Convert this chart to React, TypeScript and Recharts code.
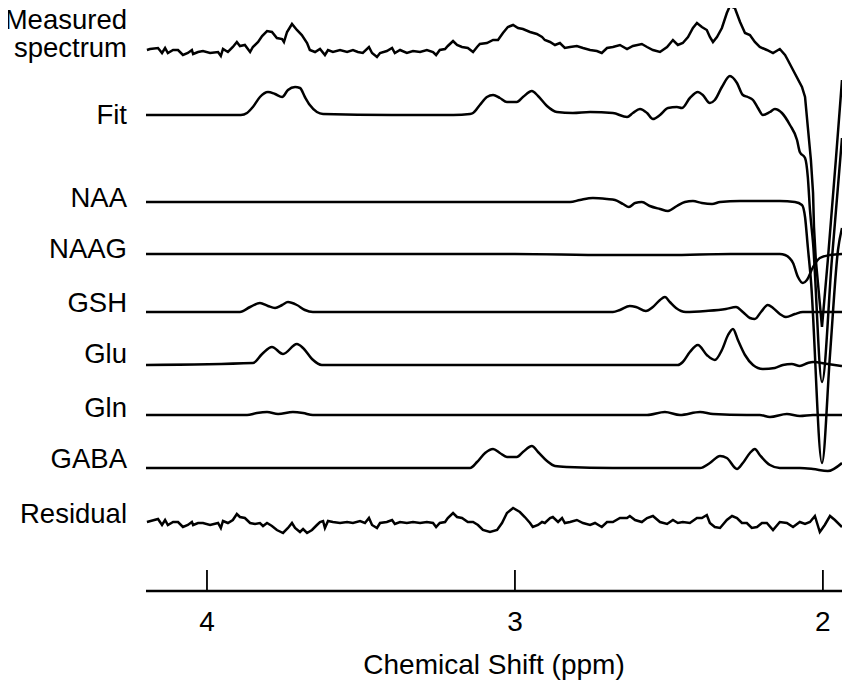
import React from 'react';
import { LineChart, Line, XAxis, YAxis, Label } from 'recharts';

const FONT = '"Liberation Sans", Arial, Helvetica, sans-serif';
const FS = 28;
const LABEL_FS = 27.5;

// chemical shift (ppm) and intensity (arbitrary units)
const measuredPpm = [4.195,4.185,4.159,4.146,4.136,4.127,4.110,4.094,4.078,4.062,4.049,4.045,4.029,4.013,3.990,3.964,3.955,3.948,3.932,3.916,3.903,3.893,3.877,3.860,3.851,3.834,3.821,3.805,3.789,3.773,3.756,3.750,3.740,3.724,3.708,3.692,3.675,3.666,3.649,3.633,3.617,3.607,3.591,3.568,3.545,3.526,3.510,3.494,3.474,3.464,3.448,3.438,3.416,3.399,3.390,3.373,3.351,3.331,3.308,3.286,3.266,3.256,3.244,3.227,3.218,3.201,3.188,3.172,3.153,3.136,3.123,3.114,3.091,3.071,3.055,3.039,3.023,3.006,2.990,2.974,2.951,2.929,2.912,2.903,2.886,2.870,2.854,2.838,2.821,2.799,2.779,2.756,2.734,2.718,2.701,2.682,2.659,2.636,2.617,2.588,2.571,2.552,2.529,2.506,2.487,2.471,2.455,2.438,2.422,2.409,2.393,2.377,2.367,2.357,2.344,2.328,2.312,2.302,2.286,2.269,2.253,2.237,2.221,2.205,2.182,2.162,2.140,2.123,2.114,2.097,2.068,2.058,2.049,2.039,2.032,2.029,2.023,2.003,1.984,1.958,1.938];
const measuredVal = [0,1,2,-3,2,-3,0,0,-5,-3,0,-4,-2,-1,-3,-2,-6,1,-2,3,8,4,5,-2,3,8,14,19,18,12,11,8,18,26,20,15,7,0,-2,1,-5,0,-2,0,-2,0,-2,-3,3,-3,-7,-3,-1,2,-3,0,-3,-1,-2,0,-2,-5,0,1,4,9,5,3,2,-2,3,6,7,10,10,17,23,25,22,21,18,16,13,10,8,5,7,2,3,4,2,0,-1,-3,2,3,5,1,4,6,3,0,-2,3,10,5,7,13,22,27,23,20,13,8,13,22,37,44,42,28,17,15,8,3,0,-3,1,-5,-10,-20,-37,-47,-77,-110,-143,-177,-210,-277,-210,-110,-30];

const fitPpm = [4.198,3.890,3.870,3.851,3.828,3.802,3.779,3.756,3.737,3.714,3.698,3.682,3.666,3.643,3.623,3.400,3.200,3.146,3.136,3.114,3.091,3.071,3.049,3.026,2.994,2.974,2.945,2.925,2.896,2.864,2.812,2.756,2.682,2.636,2.617,2.594,2.571,2.552,2.529,2.503,2.474,2.458,2.432,2.406,2.390,2.367,2.351,2.328,2.302,2.279,2.260,2.244,2.227,2.211,2.195,2.172,2.156,2.133,2.107,2.084,2.075,2.058,2.049,2.042,2.032,2.003,1.971,1.938];
const fitVal = [0,0,2,8,18,23,21,18,25,28,27,18,10,3,1,0,0,1,2,10,18,20,17,13,13,18,24,19,9,3,2,3,2,-2,2,6,2,-4,0,7,8,7,17,23,20,12,15,28,39,32,20,18,15,7,0,3,6,2,-10,-25,-37,-43,-62,-95,-128,-267,-145,-23];

const naaPpm = [4.198,2.821,2.789,2.747,2.701,2.675,2.649,2.630,2.610,2.588,2.562,2.529,2.503,2.474,2.448,2.422,2.393,2.360,2.334,2.269,2.140,2.091,2.068,2.058,2.049,2.039,2.003,1.977,1.951,1.938];
const naaVal = [0,0,2,4,3,2,-2,-5,-1,0,-4,-7,-9,-4,0,1,-1,-2,0,1,1,0,-3,-15,-45,-78,-261,-153,-48,-26];

const naagPpm = [4.198,3.000,2.700,2.500,2.300,2.140,2.123,2.097,2.081,2.065,2.052,2.032,2.010,1.977,1.938];
const naagVal = [0,0,-1,-1,0,0,-1,-9,-23,-29,-26,-13,-4,-1,0];

const gshPpm = [4.198,3.893,3.860,3.828,3.802,3.779,3.756,3.737,3.708,3.682,3.656,2.682,2.659,2.627,2.607,2.575,2.552,2.529,2.513,2.497,2.477,2.445,2.380,2.315,2.282,2.260,2.237,2.221,2.201,2.179,2.162,2.140,2.120,2.091,2.065,1.938];
const gshVal = [0,0,5,9,6,4,7,10,7,2,0,0,2,6,5,1,5,12,15,10,4,0,1,3,5,0,-6,-7,0,7,4,-2,-5,-2,0,0];

const gluPpm = [4.198,3.851,3.821,3.789,3.753,3.708,3.688,3.659,3.627,2.471,2.455,2.432,2.406,2.377,2.351,2.328,2.308,2.292,2.276,2.253,2.227,2.195,2.156,2.130,2.101,2.075,2.049,2.032,1.984,1.938];
const gluVal = [0,2,11,18,11,21,17,6,0,0,3,13,20,10,5,15,30,36,25,10,0,-4,-3,0,1,-1,2,3,1,-1];

const glnPpm = [4.198,3.870,3.838,3.805,3.769,3.721,3.688,3.656,2.571,2.513,2.464,2.399,2.357,2.247,2.205,2.172,2.117,2.075,2.032,1.938];
const glnVal = [0,0,2,3,1,3,2,0,0,3,0,3,1,0,0,-2,1,-1,0,0];

const gabaPpm = [4.198,3.146,3.123,3.097,3.071,3.049,3.026,2.994,2.974,2.945,2.925,2.896,2.870,2.831,2.682,2.399,2.367,2.334,2.312,2.279,2.260,2.237,2.221,2.205,2.172,2.140,2.075,2.032,1.984,1.938];
const gabaVal = [0,0,6,15,19,15,11,11,16,22,16,7,2,1,0,0,5,12,10,-1,5,15,19,13,3,0,0,-1,-3,5];

const residualPpm = [4.195,4.159,4.146,4.136,4.127,4.110,4.094,4.078,4.062,4.049,4.045,4.029,4.013,3.990,3.964,3.955,3.948,3.932,3.916,3.903,3.893,3.877,3.860,3.844,3.828,3.818,3.805,3.789,3.773,3.753,3.737,3.724,3.714,3.698,3.688,3.675,3.659,3.643,3.633,3.623,3.617,3.607,3.591,3.568,3.545,3.526,3.503,3.487,3.474,3.464,3.448,3.438,3.416,3.399,3.390,3.373,3.351,3.331,3.308,3.286,3.266,3.256,3.244,3.227,3.218,3.201,3.188,3.172,3.153,3.136,3.120,3.104,3.081,3.058,3.042,3.026,3.006,2.984,2.968,2.951,2.942,2.925,2.912,2.903,2.886,2.877,2.860,2.847,2.838,2.821,2.799,2.779,2.756,2.740,2.718,2.701,2.682,2.659,2.636,2.627,2.610,2.588,2.571,2.552,2.529,2.506,2.487,2.471,2.455,2.432,2.409,2.393,2.377,2.367,2.351,2.334,2.312,2.295,2.279,2.263,2.247,2.231,2.214,2.198,2.182,2.162,2.140,2.117,2.097,2.075,2.058,2.042,2.026,2.010,1.994,1.977,1.961,1.938];
const residualVal = [1,4,-2,3,-2,1,1,-4,-2,1,-2,0,0,-2,0,-5,2,0,3,9,6,5,0,-1,0,-3,0,-3,-7,-10,-5,0,-5,-9,-6,-10,-7,-2,1,2,-5,2,1,0,1,0,2,0,5,-2,-5,0,1,3,-1,1,0,1,0,1,0,-4,0,1,5,10,6,5,1,1,-2,-7,-9,-7,0,10,15,11,6,0,-4,-2,1,0,5,6,1,5,0,1,3,0,-2,0,-4,1,1,5,5,7,3,1,5,7,1,-1,3,0,1,0,5,5,8,0,-4,-5,3,7,5,0,0,-5,-4,0,0,-7,1,0,-4,1,-1,1,7,-9,-2,7,3,-4];

const seriesNames = ['Measured\nspectrum', 'Fit', 'NAA', 'NAAG', 'GSH', 'Glu', 'Gln', 'GABA', 'Residual'];
const xTicks = [2, 3, 4];

// layout: vertical stacking offsets and label levels (chart units)
const Y_MAX = 591;
const baselines = [541, 476, 389, 337, 279, 226, 176, 123, 68];
const labelLevels = [534, 467, 384, 333, 279, 228, 174, 123, 68];

const seriesData = [
  [measuredPpm, measuredVal],
  [fitPpm, fitVal],
  [naaPpm, naaVal],
  [naagPpm, naagVal],
  [gshPpm, gshVal],
  [gluPpm, gluVal],
  [glnPpm, glnVal],
  [gabaPpm, gabaVal],
  [residualPpm, residualVal],
];
const curveTypes = ['linear', 'monotone', 'monotone', 'monotone', 'monotone', 'monotone', 'monotone', 'monotone', 'linear'];

const build = (ppm: number[], val: number[], base: number) =>
  ppm.map((p, i) => ({ ppm: p, y: val[i] + base }));

const YTick = (props: any) => {
  const { y, payload } = props;
  const idx = labelLevels.indexOf(payload.value);
  if (idx < 0) return null;
  const lines = seriesNames[idx].split('\n');
  return (
    <text x={127} y={y} textAnchor="end" fontSize={LABEL_FS} fontFamily={FONT} fill="#000">
      {lines.map((t, i) => (
        <tspan key={i} x={127} dy={i === 0 ? -(lines.length - 1) * 28 : 28}>{t}</tspan>
      ))}
    </text>
  );
};

const XTick = (props: any) => {
  const { x, y, payload } = props;
  return (
    <g>
      <line x1={x} x2={x} y1={y} y2={y - 21} stroke="#000" strokeWidth={1.8} />
      <text x={x} y={y + 40} textAnchor="middle" fontSize={FS} fontFamily={FONT} fill="#000">
        {payload.value}
      </text>
    </g>
  );
};

export default function App() {
  return (
    <div style={{ margin: -8, width: 852, height: 689, background: '#fff' }}>
      <LineChart width={852} height={689} margin={{ top: 0, right: 10, bottom: 0, left: 0 }}>
        <XAxis
          type="number"
          dataKey="ppm"
          domain={[1.938, 4.198]}
          allowDataOverflow
          reversed
          ticks={xTicks}
          interval={0}
          tickSize={0}
          tickMargin={0}
          tickLine={false}
          axisLine={{ stroke: '#000', strokeWidth: 2.6 }}
          height={98}
          tick={(p: any) => <XTick {...p} />}
        >
          <Label
            value="Chemical Shift (ppm)"
            position="insideBottom"
            offset={15}
            fill="#000"
            fontSize={FS}
            fontFamily={FONT}
          />
        </XAxis>
        <YAxis
          type="number"
          domain={[0, Y_MAX]}
          allowDataOverflow
          ticks={labelLevels}
          interval={0}
          width={146}
          axisLine={false}
          tickLine={false}
          tick={(p: any) => <YTick {...p} />}
        />
        {seriesData.map(([ppm, val], i) => (
          <Line
            key={seriesNames[i]}
            data={build(ppm, val, baselines[i])}
            dataKey="y"
            type={curveTypes[i] as any}
            stroke="#000"
            strokeWidth={2.5}
            dot={false}
            activeDot={false}
            isAnimationActive={false}
          />
        ))}
      </LineChart>
    </div>
  );
}
